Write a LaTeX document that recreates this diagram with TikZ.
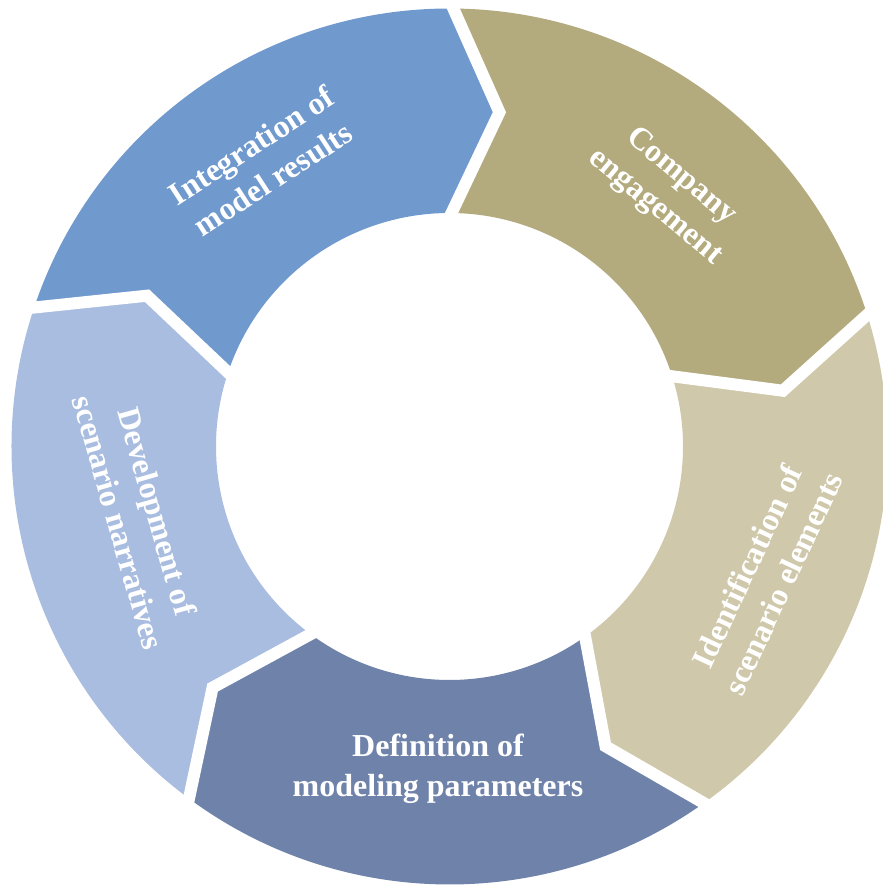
\documentclass[tikz,border=0pt]{standalone}
\usepackage{fontspec}
\setmainfont{Liberation Serif}
\definecolor{cInt}{HTML}{7099CE}
\definecolor{cComp}{HTML}{B3AA7E}
\definecolor{cIdent}{HTML}{CFC8AA}
\definecolor{cDef}{HTML}{6F83AA}
\definecolor{cDev}{HTML}{A9BDE0}
\tikzset{
  seglabel/.style={text=white, font=\fontsize{32}{40}\selectfont\bfseries, align=center, inner sep=0pt},
  gapline/.style={draw=white, line width=12pt, line join=miter, miter limit=20, shorten <=-25pt, shorten >=-25pt}
}
\newcommand{\Ro}{438}
\newcommand{\Ri}{233.5}
\newcommand{\Rm}{338}
\newcommand{\segment}[3]{% color, start angle a, end angle b
  \fill[#1] (#2:\Ro) arc[start angle=#2, end angle=#3, radius=\Ro]
    -- ({#3-8}:\Rm) -- (#3:\Ri)
    arc[start angle=#3, end angle=#2, radius=\Ri]
    -- ({#2-8}:\Rm) -- cycle;}
\newcommand{\gap}[1]{\draw[gapline] (#1:\Ro) -- ({#1-8}:\Rm) -- (#1:\Ri);}
\begin{document}
\begin{tikzpicture}[x=1pt,y=1pt]
\useasboundingbox (0,0) rectangle (883,886);
\clip (0,0) rectangle (883,886);
\begin{scope}[shift={(449.5,439.5)}]
  \segment{cInt}{161.5}{89.5}
  \segment{cComp}{89.5}{17.5}
  \segment{cIdent}{17.5}{-54.5}
  \segment{cDef}{-54.5}{-126.5}
  \segment{cDev}{-126.5}{-198.5}
  \gap{161.5}
  \gap{89.5}
  \gap{17.5}
  \gap{-54.5}
  \gap{-126.5}
\end{scope}
\node[seglabel, rotate=33] (lint) at (262,724) {Integration of\\model results};
\node[seglabel, rotate=-40] (lcomp) at (668,694) {Company\\engagement};
\node[seglabel, rotate=65] (lident) at (765,311) {Identification of\\scenario elements};
\node[seglabel] (ldef) at (438,117) {Definition of\\modeling parameters};
\node[seglabel, rotate=-74] (ldev) at (138,369) {Development of\\scenario narratives};
\end{tikzpicture}
\end{document}
